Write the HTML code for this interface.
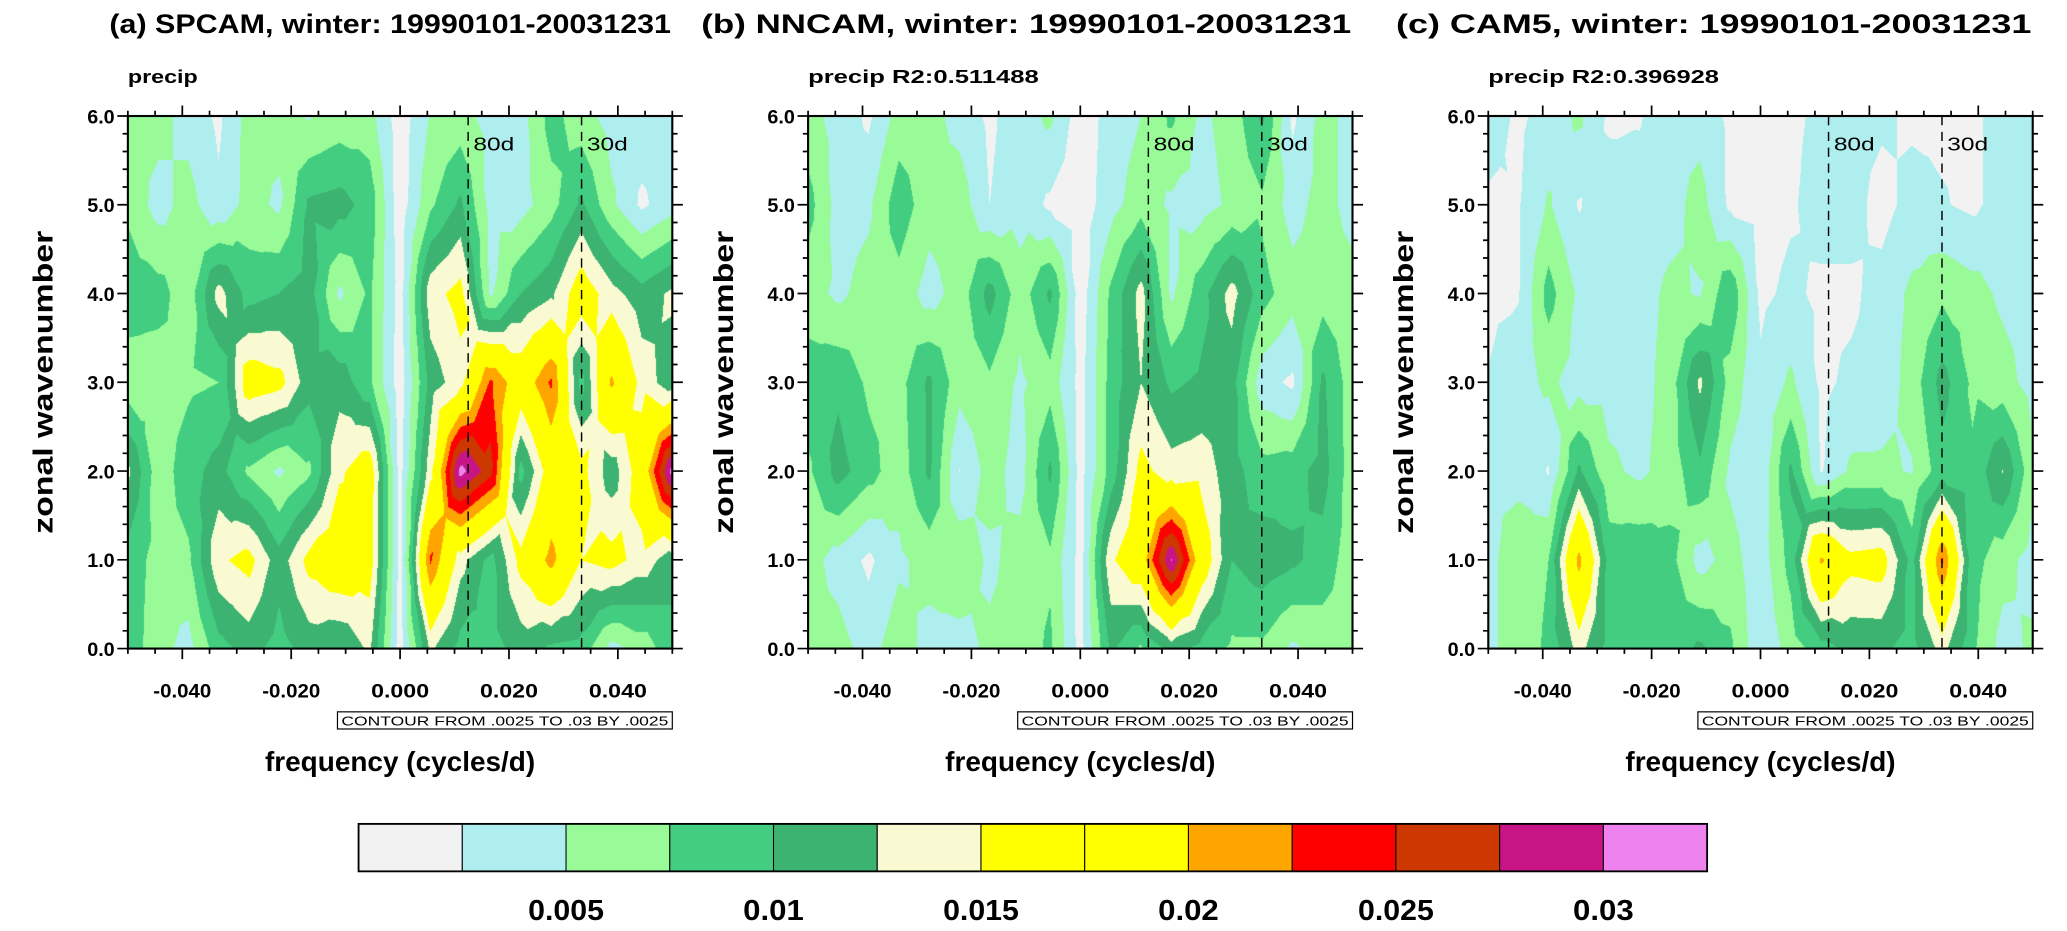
<!DOCTYPE html>
<html><head><meta charset="utf-8">
<style>
html,body{margin:0;padding:0;background:#fff;}
#root{position:relative;width:2067px;height:931px;overflow:hidden;background:#fff;}
canvas{position:absolute;}
svg{position:absolute;left:0;top:0;}
text{font-family:"Liberation Sans",sans-serif;}
</style></head>
<body>
<div id="root">
<canvas id="cv0"></canvas>
<canvas id="cv1"></canvas>
<canvas id="cv2"></canvas>
<svg id="ov" width="2067" height="931" viewBox="0 0 1568 706.25"></svg>
</div>
<script>
// ---- data ----
const freqs = [-9,-8,-7,-6,-5,-4,-3,-2,-1,0,1,2,3,4,5,6,7,8,9].map(n => n/180);
const wavenumbers = [0,1,2,3,4,5,6];
const levels = [0.0025,0.005,0.0075,0.01,0.0125,0.015,0.0175,0.02,0.0225,0.025,0.0275,0.03];
const levelColors = ["#f2f2f2","#afeeee","#98fb98","#43cd80","#3cb371","#fafad2","#ffff00","#ffff00","#ffa500","#ff0000","#cd3700","#c71585","#ee82ee"];
const colorbarLabels = ["0.005","0.01","0.015","0.02","0.025","0.03"];
const xTickLabels = ["-0.040","-0.020","0.000","0.020","0.040"];
const xTickValues = [-0.04,-0.02,0,0.02,0.04];
const yTickLabels = ["0.0","1.0","2.0","3.0","4.0","5.0","6.0"];
const periodLines = [80,30];
const panelTitles = ["(a) SPCAM, winter: 19990101-20031231","(b) NNCAM, winter: 19990101-20031231","(c) CAM5, winter: 19990101-20031231"];
const panelSub = ["precip","precip  R2:0.511488","precip  R2:0.396928"];
// values in 1e-3 units, rows k=0..6
const spcam = [
 [9,6,4,9,11,9,11,10,13,1,13,9,9,11,9.5,9,4,6,9],
 [9,6.5,7,14.5,16,11,16,18,16.5,1.5,23,13.5,9,16,21,15,16,14,11],
 [13,6,9,11,7,4.5,7,14.5,17,1.5,14,31,26,9,17,16,11,17,31],
 [6,6,7,7.5,17,16,11,11.5,8,1,11,14,23,17.5,23,9,20.5,14,11],
 [9,8.5,6,13.5,9,10,11,4.5,8,1.5,14,16,4.5,10,12,17,13.5,11,13],
 [7,4,6,3,6,4.5,10.5,11,9,1,7,10.5,4,4,6.5,10.5,5.5,2,4],
 [6,6,4,2,6,6,4.8,6,6,1,5.2,6,4,4,8.5,6,4,4,4]
];
const nncam = [
 [6,6,4,6.5,4,4,5.5,6,8,1.5,10.5,7,11,9,7,7,4.5,6,6],
 [6,4,2,4.5,6,7,4.5,6,7,1.5,14.5,18,30.2,17.5,10,11.5,10.5,9,6],
 [7,11,8.5,6,10.5,2.4,6,4,10.5,1.5,8.5,16,13.5,14,11,8.5,9,11,6],
 [9,9.5,7,6.5,10.5,6,7,4.5,6.5,1.5,8.5,12.5,9.5,10.5,11,3.5,2,10.5,6],
 [6,4.5,6,6.5,4,6,11,6,10.5,1,8,13.5,4.5,9,13.5,8.5,6,6.5,6],
 [8.5,4,4.5,9,6,6.5,2.5,4,2,1,4,6.5,4.5,4,5.5,7,4,6,4],
 [6,4,2,6,6,4,2,4,5.5,1,3.5,5,8,4.5,6,10.5,2,6,4]
];
const cam5 = [
 [4.5,6,8,13.5,9,9,8.5,10.5,8,3,6,9,10.5,10.5,9,13.5,8,4,5.5],
 [4.5,6,7.5,21,9,9.5,8.5,4,6,3.5,8.5,20.5,16,16.5,9,23,8.5,6,4],
 [5,4.5,2.3,10.5,5.5,4.5,6,9.5,4.5,3,10.5,2.3,5.5,5.5,4.8,9,8,12.6,5.5],
 [2.6,4,5.5,4,4,4,6,13,6.5,3,5.5,2,3,3.5,6,11,7,6,4],
 [2,2.3,8.5,4.5,4,4,5.5,4.8,9.5,2,3,2,2,3.5,5.5,7,6,4.5,4],
 [2,2.3,5.3,2.3,4,3.5,4,6,2,1.5,2.2,3.5,3.5,1.5,3.5,2.7,2,3.5,4],
 [4,2,3.5,5.5,2,2.3,4,4,2,1.5,2,3,3.5,3,2,2,2,3.5,4]
];
const panelData = [spcam, nncam, cam5];

// ---- layout (viewBox units) ----
const S = 2067/1568;
const lefts = [97,613,1129], PW = 413, PT = 88, PH = 404;
const svg = document.getElementById('ov');
const NS = "http://www.w3.org/2000/svg";
function mk(tag, attrs, parent){ const e=document.createElementNS(NS,tag); for(const k in attrs) e.setAttribute(k,attrs[k]); (parent||svg).appendChild(e); return e; }
function colorFor(v){ let i=0; while(i<levels.length && v>=levels[i]) i++; return levelColors[i]; }
function hexRgb(h){ return [parseInt(h.slice(1,3),16),parseInt(h.slice(3,5),16),parseInt(h.slice(5,7),16)]; }
// linear interpolation on 4 triangles per cell (corners + centre)
function cellInterp(v00,v10,v11,v01,tx,ty){
  const vc=(v00+v10+v11+v01)/4;
  let A,B,ax,ay,bx,by;
  if(ty<=tx && ty<=1-tx){A=v00;ax=0;ay=0;B=v10;bx=1;by=0;}
  else if(ty>=tx && ty>=1-tx){A=v01;ax=0;ay=1;B=v11;bx=1;by=1;}
  else if(tx<ty){A=v00;ax=0;ay=0;B=v01;bx=0;by=1;}
  else {A=v10;ax=1;ay=0;B=v11;bx=1;by=1;}
  const cx=0.5,cy=0.5;
  const det=(bx-ax)*(cy-ay)-(cx-ax)*(by-ay);
  const wb=((tx-ax)*(cy-ay)-(cx-ax)*(ty-ay))/det;
  const wc=((bx-ax)*(ty-ay)-(tx-ax)*(by-ay))/det;
  const wa=1-wb-wc;
  return wa*A+wb*B+wc*vc;
}

const fmin = -0.05, fmax = 0.05;
for(let p=0;p<3;p++){
  const L = lefts[p];
  const xS = f => L + (f - fmin)/(fmax - fmin)*PW;
  const yS = k => PT + PH - k/6*PH;
  const cv = document.getElementById('cv'+p);
  const cx0 = Math.round(L*S), cy0 = Math.round(PT*S);
  const W = Math.round((L+PW)*S) - cx0, H = Math.round((PT+PH)*S) - cy0;
  cv.width = W; cv.height = H;
  cv.style.left = cx0+'px'; cv.style.top = cy0+'px';
  const ctx = cv.getContext('2d');
  const img = ctx.createImageData(W,H);
  const D = panelData[p];
  const nf = freqs.length, nk = wavenumbers.length;
  const df = freqs[1]-freqs[0];
  for(let py=0;py<H;py++){
    const k = (1-(py+0.5)/H)*(wavenumbers[nk-1]-wavenumbers[0]);
    let r0 = Math.min(Math.floor(k), nk-2); const ty = k - r0;
    for(let px=0;px<W;px++){
      const f = fmin + (px+0.5)/W*(fmax-fmin);
      const fx = (f - freqs[0])/df;
      let c0 = Math.min(Math.max(Math.floor(fx),0), nf-2); const tx = fx - c0;
      const v = cellInterp(D[r0][c0],D[r0][c0+1],D[r0+1][c0+1],D[r0+1][c0],tx,ty)*1e-3;
      const rgb = hexRgb(colorFor(v));
      const o = (py*W+px)*4;
      img.data[o]=rgb[0]; img.data[o+1]=rgb[1]; img.data[o+2]=rgb[2]; img.data[o+3]=255;
    }
  }
  ctx.putImageData(img,0,0);

  const g = mk('g',{});
  
  
  periodLines.forEach(d => {
    const x = xS(1/d);
    const ln = mk('line',{x1:x,x2:x,y1:PT,y2:PT+PH,stroke:'#000','stroke-width':1.1,'stroke-dasharray':'7,5'},g);
    
    
    const t = mk('text',{x:x+4,y:PT+26,'font-size':14,fill:'#000',textLength:31,lengthAdjust:'spacingAndGlyphs'},g);
    t.textContent = d+'d';
    
    
  });
  const fr = mk('rect',{x:L,y:PT,width:PW,height:PH,fill:'none',stroke:'#000','stroke-width':1.6},g);
  
  
  let tk = '';
  for(let i=0;i<=20;i++){
    const f = fmin + i*0.005; const x = xS(f);
    const major = (i%4===2); const len = major?8:4;
    tk += `M${x},${PT+PH}v${len}M${x},${PT}v${-len}`;
  }
  for(let i=0;i<=30;i++){
    const k = i*0.2; const y = yS(k);
    const len = (i%5===0)?8:4;
    tk += `M${L},${y}h${-len}M${L+PW},${y}h${len}`;
  }
  const tp = mk('path',{d:tk,stroke:'#000','stroke-width':1.3,fill:'none'},g);
  
  
  xTickValues.forEach((f,i) => {
    const t = mk('text',{x:xS(f),y:PT+PH+37,'font-size':15,'font-weight':'bold','text-anchor':'middle',textLength:44,lengthAdjust:'spacingAndGlyphs'},g);
    t.textContent = xTickLabels[i];
    
    
  });
  wavenumbers.forEach((k,i) => {
    const t = mk('text',{x:L-10,y:yS(k)+5.5,'font-size':15,'font-weight':'bold','text-anchor':'end'},g);
    t.textContent = yTickLabels[i];
    
    
  });
  const yt = mk('text',{x:0,y:0,'font-size':21,'font-weight':'bold','text-anchor':'middle',textLength:230,lengthAdjust:'spacingAndGlyphs',transform:`translate(${L-57},${PT+PH/2}) rotate(-90)`},g);
  yt.textContent = 'zonal wavenumber';
  
  
  const xt = mk('text',{x:L+PW/2,y:PT+PH+93,'font-size':21,'font-weight':'bold','text-anchor':'middle',textLength:205,lengthAdjust:'spacingAndGlyphs'},g);
  xt.textContent = 'frequency (cycles/d)';
  
  
  const tw = [426,493,482][p];
  const tt = mk('text',{x:L+PW-1-tw,y:25,'font-size':20,'font-weight':'bold',textLength:tw,lengthAdjust:'spacingAndGlyphs'},g);
  tt.textContent = panelTitles[p];
  
  
  const sw = [53,175,175][p];
  const st = mk('text',{x:L,y:63,'font-size':14,'font-weight':'bold','xml:space':'preserve',textLength:sw,lengthAdjust:'spacingAndGlyphs'},g);
  st.textContent = panelSub[p];
  
  
  const cb = mk('rect',{x:L+PW-254,y:PT+PH+48,width:254,height:13,fill:'#fff',stroke:'#000','stroke-width':0.9},g);
  
  
  const ct = mk('text',{x:L+PW-251,y:PT+PH+58.5,'font-size':10,'font-family':'Liberation Mono, monospace',textLength:248,lengthAdjust:'spacingAndGlyphs'},g);
  ct.textContent = 'CONTOUR FROM .0025 TO .03 BY .0025';
  
  
}

const cbL = 272, cbR = 1295, cbT = 625, cbH = 36;
const bw = (cbR-cbL)/levelColors.length;
const cg = mk('g',{});


levelColors.forEach((c,i) => {
  const r = mk('rect',{x:cbL+i*bw,y:cbT,width:bw,height:cbH,fill:c,stroke:'#000','stroke-width':0.8},cg);
  
  
});
const cbo = mk('rect',{x:cbL,y:cbT,width:cbR-cbL,height:cbH,fill:'none',stroke:'#000','stroke-width':1.4},cg);


colorbarLabels.forEach((s,i) => {
  const t = mk('text',{x:cbL+(2+2*i)*bw,y:698,'font-size':22,'font-weight':'bold','text-anchor':'middle',textLength:s.length*11.5,lengthAdjust:'spacingAndGlyphs'},cg);
  t.textContent = s;
  
  
});
</script>
</body></html>
